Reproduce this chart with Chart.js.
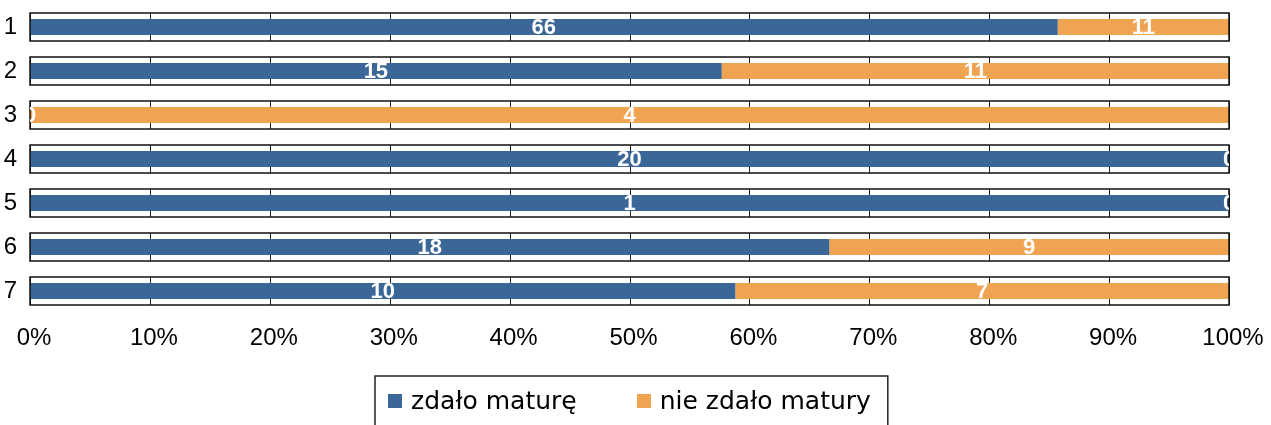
<!DOCTYPE html>
<html>
<head>
<meta charset="utf-8">
<script src="https://cdn.jsdelivr.net/npm/chart.js@4"></script>
<style>
  html, body { margin: 0; padding: 0; background: #fff; overflow: hidden; }
</style>
</head>
<body>
<canvas id="chart" width="1271" height="425"></canvas>
<script>
const categories = ['1', '2', '3', '4', '5', '6', '7'];
const passed = [66, 15, 0, 20, 1, 18, 10];
const failed = [11, 11, 4, 0, 0, 9, 7];
const seriesNames = ['zdało maturę', 'nie zdało matury'];
const xTickLabels = ['0%', '10%', '20%', '30%', '40%', '50%', '60%', '70%', '80%', '90%', '100%'];

const totals = categories.map((_, i) => passed[i] + failed[i]);
const toPercent = (arr) => arr.map((v, i) => (totals[i] ? (v / totals[i]) * 100 : 0));

// white framed box behind every row, with the vertical grid inside it
const rowFrames = {
  id: 'rowFrames',
  beforeDatasetsDraw(chart) {
    const { ctx, chartArea, scales: { x, y } } = chart;
    const half = Math.round((y.height / categories.length) * 0.32);
    ctx.save();
    categories.forEach((_, i) => {
      const cy = Math.round(y.getPixelForValue(i));
      ctx.fillStyle = '#fff';
      ctx.fillRect(chartArea.left, cy - half, chartArea.width, half * 2);
      ctx.strokeStyle = '#222';
      ctx.lineWidth = 1;
      x.ticks.forEach((t) => {
        const px = Math.round(x.getPixelForValue(t.value)) + 0.5;
        ctx.beginPath();
        ctx.moveTo(px, cy - half);
        ctx.lineTo(px, cy + half);
        ctx.stroke();
      });
    });
    ctx.restore();
  },
  afterDatasetsDraw(chart) {
    const { ctx, chartArea, scales: { y } } = chart;
    const half = Math.round((y.height / categories.length) * 0.32);
    ctx.save();
    ctx.strokeStyle = '#111';
    ctx.lineWidth = 1.5;
    categories.forEach((_, i) => {
      const cy = Math.round(y.getPixelForValue(i));
      ctx.strokeRect(chartArea.left, cy - half, chartArea.right - chartArea.left, half * 2);
    });
    // counts written in the middle of each segment
    ctx.beginPath();
    ctx.rect(chartArea.left, chartArea.top, chartArea.width, chartArea.height);
    ctx.clip();
    ctx.fillStyle = '#fff';
    ctx.font = 'bold 22px "Liberation Sans", Arial, sans-serif';
    ctx.textAlign = 'center';
    ctx.textBaseline = 'middle';
    chart.data.datasets.forEach((ds, di) => {
      chart.getDatasetMeta(di).data.forEach((bar, i) => {
        ctx.fillText(String(ds.counts[i]), (bar.x + bar.base) / 2, bar.y + 1);
      });
    });
    ctx.restore();
  },
};

// framed legend under the axis
const framedLegend = {
  id: 'framedLegend',
  afterDraw(chart) {
    const { ctx, chartArea } = chart;
    const sets = chart.data.datasets;
    const box = 14, gap = 9, between = 60;
    ctx.save();
    ctx.font = '25px "DejaVu Sans", sans-serif';
    const widths = sets.map((ds) => ctx.measureText(ds.label).width);
    const total = widths.reduce((a, w) => a + box + gap + w, 0) + between * (sets.length - 1);
    let x = (chartArea.left + chartArea.right) / 2 - total / 2;
    const cy = 401;
    ctx.strokeStyle = '#222';
    ctx.lineWidth = 1.5;
    ctx.strokeRect(Math.round(x) - 13, cy - 25, total + 30, 52);
    ctx.textBaseline = 'middle';
    ctx.textAlign = 'left';
    sets.forEach((ds, i) => {
      ctx.fillStyle = ds.backgroundColor;
      ctx.fillRect(Math.round(x), cy - 7, box, box);
      ctx.fillStyle = '#000';
      ctx.fillText(ds.label, x + box + gap, cy + 1);
      x += box + gap + widths[i] + between;
    });
    ctx.restore();
  },
};

new Chart(document.getElementById('chart'), {
  type: 'bar',
  data: {
    labels: categories,
    datasets: [
      {
        label: seriesNames[0],
        data: toPercent(passed),
        counts: passed,
        backgroundColor: '#3A6797',
        borderWidth: 0,
      },
      {
        label: seriesNames[1],
        data: toPercent(failed),
        counts: failed,
        backgroundColor: '#F0A452',
        borderWidth: 0,
      },
    ],
  },
  options: {
    indexAxis: 'y',
    responsive: false,
    animation: false,
    barPercentage: 0.36,
    categoryPercentage: 1,
    layout: { padding: { top: 5, right: 42, left: 0, bottom: 72 } },
    scales: {
      x: {
        stacked: true,
        min: 0,
        max: 100,
        grid: { display: false },
        border: { display: false },
        ticks: {
          stepSize: 10,
          padding: 3,
          labelOffset: 4,
          maxRotation: 0,
          color: '#000',
          font: { family: '"Liberation Sans", Arial, sans-serif', size: 24 },
          callback: (v, i) => xTickLabels[i],
        },
        afterFit: (scale) => {
          scale.height = 40;
          scale.paddingLeft = 0;
          scale.paddingRight = 0;
        },
      },
      y: {
        stacked: true,
        grid: { display: false },
        border: { display: false },
        ticks: {
          padding: 5,
          color: '#000',
          font: { family: '"Liberation Sans", Arial, sans-serif', size: 24 },
        },
        afterFit: (scale) => {
          scale.width = 30;
          scale.paddingTop = 0;
          scale.paddingBottom = 0;
        },
      },
    },
    plugins: {
      legend: { display: false },
      tooltip: { enabled: false },
    },
  },
  plugins: [rowFrames, framedLegend],
});
</script>
</body>
</html>
